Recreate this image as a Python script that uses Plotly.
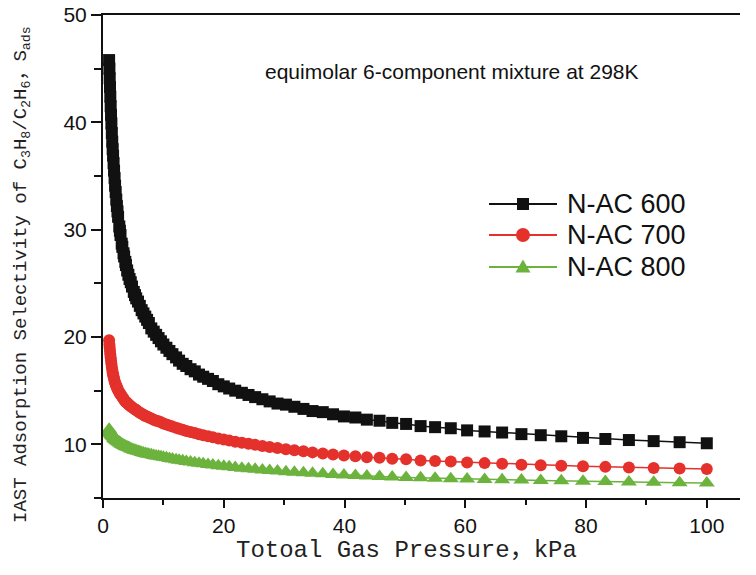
import plotly.graph_objects as go

pressure = [1.01, 1.06, 1.11, 1.16, 1.21, 1.27, 1.33, 1.39, 1.46, 1.53,
            1.6, 1.67, 1.75, 1.83, 1.92, 2.0, 2.1, 2.2, 2.3, 2.4,
            2.5, 2.7, 2.8, 2.9, 3.1, 3.2, 3.4, 3.5, 3.7, 3.8,
            4.0, 4.2, 4.4, 4.6, 4.8, 5.1, 5.3, 5.5, 5.8, 6.1,
            6.4, 6.7, 7.0, 7.3, 7.6, 8.0, 8.4, 8.8, 9.2, 9.6,
            10.0, 10.5, 11.0, 11.5, 12.1, 12.6, 13.2, 13.8, 14.5, 15.2,
            15.9, 16.6, 17.4, 18.2, 19.1, 20.0, 20.9, 21.9, 23.0, 24.1,
            25.2, 26.4, 27.6, 28.9, 30.3, 31.7, 33.2, 34.7, 36.4, 38.1,
            39.9, 41.8, 43.7, 45.8, 47.9, 50.2, 52.6, 55.0, 57.6, 60.3,
            63.2, 66.1, 69.3, 72.5, 75.9, 79.5, 83.2, 87.1, 91.2, 95.5,
            100.0]

nac600 = [45.8, 45.0, 44.1, 43.3, 42.4, 41.5, 40.7, 39.9, 39.0, 38.2,
          37.5, 36.9, 36.2, 35.5, 34.8, 34.1, 33.5, 32.8, 32.2, 31.7,
          31.2, 30.3, 29.9, 29.5, 28.7, 28.4, 27.8, 27.5, 27.0, 26.7,
          26.2, 25.8, 25.4, 25.1, 24.7, 24.2, 23.9, 23.6, 23.3, 22.9,
          22.5, 22.2, 21.9, 21.6, 21.3, 20.8, 20.5, 20.2, 19.9, 19.6,
          19.3, 19.0, 18.7, 18.4, 18.1, 17.8, 17.5, 17.3, 17.0, 16.8,
          16.5, 16.3, 16.1, 15.9, 15.6, 15.4, 15.2, 15.0, 14.8, 14.6,
          14.4, 14.2, 14.0, 13.8, 13.7, 13.5, 13.3, 13.1, 13.0, 12.8,
          12.6, 12.5, 12.3, 12.2, 12.0, 11.9, 11.7, 11.6, 11.5, 11.3,
          11.2, 11.1, 10.95, 10.85, 10.75, 10.6, 10.5, 10.4, 10.3, 10.2,
          10.1]

nac700 = [19.7, 19.3, 19.0, 18.7, 18.4, 18.1, 17.8, 17.5, 17.2, 16.95,
          16.7, 16.5, 16.3, 16.1, 15.9, 15.75, 15.6, 15.45, 15.3, 15.2,
          15.05, 14.85, 14.75, 14.65, 14.5, 14.4, 14.25, 14.15, 14.0, 13.95,
          13.85, 13.75, 13.65, 13.55, 13.45, 13.35, 13.25, 13.2, 13.05, 12.95,
          12.85, 12.75, 12.65, 12.6, 12.5, 12.4, 12.3, 12.2, 12.15, 12.05,
          11.95, 11.85, 11.75, 11.65, 11.55, 11.45, 11.35, 11.25, 11.15, 11.05,
          10.95, 10.85, 10.75, 10.65, 10.55, 10.45, 10.35, 10.25, 10.15, 10.05,
          9.95, 9.85, 9.75, 9.65, 9.55, 9.45, 9.35, 9.25, 9.15, 9.05,
          8.95, 8.9, 8.8, 8.75, 8.65, 8.6, 8.5, 8.45, 8.4, 8.3,
          8.25, 8.2, 8.1, 8.05, 8.0, 7.95, 7.9, 7.85, 7.8, 7.75,
          7.7]

nac800 = [11.4, 11.3, 11.25, 11.15, 11.1, 11.05, 11.0, 10.95, 10.9, 10.85,
          10.8, 10.75, 10.7, 10.6, 10.55, 10.5, 10.45, 10.4, 10.35, 10.3,
          10.25, 10.2, 10.15, 10.1, 10.0, 9.98, 9.92, 9.88, 9.82, 9.8,
          9.75, 9.7, 9.65, 9.6, 9.55, 9.48, 9.45, 9.4, 9.35, 9.3,
          9.25, 9.2, 9.15, 9.1, 9.07, 9.02, 8.97, 8.92, 8.88, 8.84,
          8.8, 8.74, 8.68, 8.63, 8.57, 8.52, 8.46, 8.41, 8.35, 8.29,
          8.24, 8.18, 8.13, 8.07, 8.01, 7.95, 7.9, 7.84, 7.78, 7.73,
          7.67, 7.62, 7.56, 7.51, 7.45, 7.4, 7.35, 7.3, 7.25, 7.2,
          7.15, 7.1, 7.05, 7.0, 6.96, 6.92, 6.88, 6.84, 6.8, 6.76,
          6.73, 6.7, 6.67, 6.64, 6.6, 6.57, 6.53, 6.5, 6.46, 6.43,
          6.4]

series_names = ["N-AC 600", "N-AC 700", "N-AC 800"]
series_values = [nac600, nac700, nac800]
colors = ["#111111", "#e4312b", "#6cb33e"]
symbols = ["square", "circle", "triangle-up"]
sizes = [12, 12, 14]

fig = go.Figure()
for name, vals, col, sym, sz in zip(series_names, series_values, colors, symbols, sizes):
    fig.add_trace(go.Scatter(
        x=pressure, y=vals, name=name, mode="lines+markers",
        line=dict(color=col, width=1.5),
        marker=dict(symbol=sym, size=sz, color=col, line=dict(width=0)),
        showlegend=False,
    ))

# hand-drawn legend (sample line + marker + label), laid out like the original
leg_rows = [0.6087, 0.5445, 0.4783]
leg_x0, leg_x1, leg_xm, leg_xt = 0.606, 0.7127, 0.6593, 0.7253
shapes = []
annotations = []
for name, col, sym, yr in zip(series_names, colors, symbols, leg_rows):
    shapes.append(dict(type="line", xref="paper", yref="paper", x0=leg_x0, x1=leg_x1,
                       y0=yr, y1=yr, line=dict(color=col, width=2)))
    if sym == "square":
        shapes.append(dict(type="rect", xref="paper", yref="paper", xsizemode="pixel", ysizemode="pixel",
                           xanchor=leg_xm, yanchor=yr, x0=-6, x1=6, y0=-6, y1=6,
                           fillcolor=col, line=dict(width=0)))
    elif sym == "circle":
        shapes.append(dict(type="circle", xref="paper", yref="paper", xsizemode="pixel", ysizemode="pixel",
                           xanchor=leg_xm, yanchor=yr, x0=-7, x1=7, y0=-7, y1=7,
                           fillcolor=col, line=dict(width=0)))
    else:
        shapes.append(dict(type="path", xref="paper", yref="paper", xsizemode="pixel", ysizemode="pixel",
                           xanchor=leg_xm, yanchor=yr, path="M-7.5,-5.5 L7.5,-5.5 L0,7.5 Z",
                           fillcolor=col, line=dict(width=0)))
    annotations.append(dict(text=name, xref="paper", yref="paper", x=leg_xt, y=yr,
                            xanchor="left", yanchor="middle", showarrow=False,
                            font=dict(family="Liberation Sans, Arial, sans-serif", size=27, color="#111111")))

axis_font = dict(family="Liberation Sans, Arial, sans-serif", size=21, color="#111111")

annotations += [
    dict(text="equimolar 6-component mixture at 298K", xref="paper", yref="paper",
         x=0.251, y=0.882, xanchor="left", yanchor="middle", showarrow=False,
         font=dict(family="Liberation Sans, Arial, sans-serif", size=21, color="#111111")),
    dict(text="Totoal Gas Pressure，kPa", xref="paper", yref="paper",
         x=0.477, y=-0.108, xanchor="center", yanchor="middle", showarrow=False,
         font=dict(family="Liberation Mono, Noto Sans CJK SC, monospace", size=24, color="#222222")),
    dict(text="IAST Adsorption Selectivity of C<sub>3</sub>H<sub>8</sub>/C<sub>2</sub>H<sub>6</sub>，S<sub>ads</sub>",
         xref="paper", yref="paper", x=-0.127, y=0.462, xanchor="center", yanchor="middle",
         textangle=-90, showarrow=False,
         font=dict(family="Liberation Mono, Noto Sans CJK SC, monospace", size=19, color="#222222")),
]

fig.update_layout(
    width=756, height=575,
    margin=dict(l=103, r=16, t=15, b=77),
    paper_bgcolor="white", plot_bgcolor="white",
    showlegend=False,
    xaxis=dict(range=[0, 105.5], showgrid=False, zeroline=False, automargin=False,
               showline=True, linecolor="#111111", linewidth=2, mirror=True,
               ticks="outside", ticklen=8, tickwidth=2, tickcolor="#111111",
               tick0=0, dtick=20, tickfont=axis_font,
               minor=dict(dtick=10, ticks="outside", ticklen=5, tickwidth=2, tickcolor="#111111")),
    yaxis=dict(range=[5, 50], showgrid=False, zeroline=False, automargin=False,
               showline=True, linecolor="#111111", linewidth=2, mirror=False,
               ticks="outside", ticklen=10, tickwidth=2, tickcolor="#111111",
               tick0=0, dtick=10, tickfont=axis_font,
               minor=dict(dtick=5, ticks="outside", ticklen=7, tickwidth=2, tickcolor="#111111")),
    shapes=shapes,
    annotations=annotations,
)

fig.write_html("out.html")
